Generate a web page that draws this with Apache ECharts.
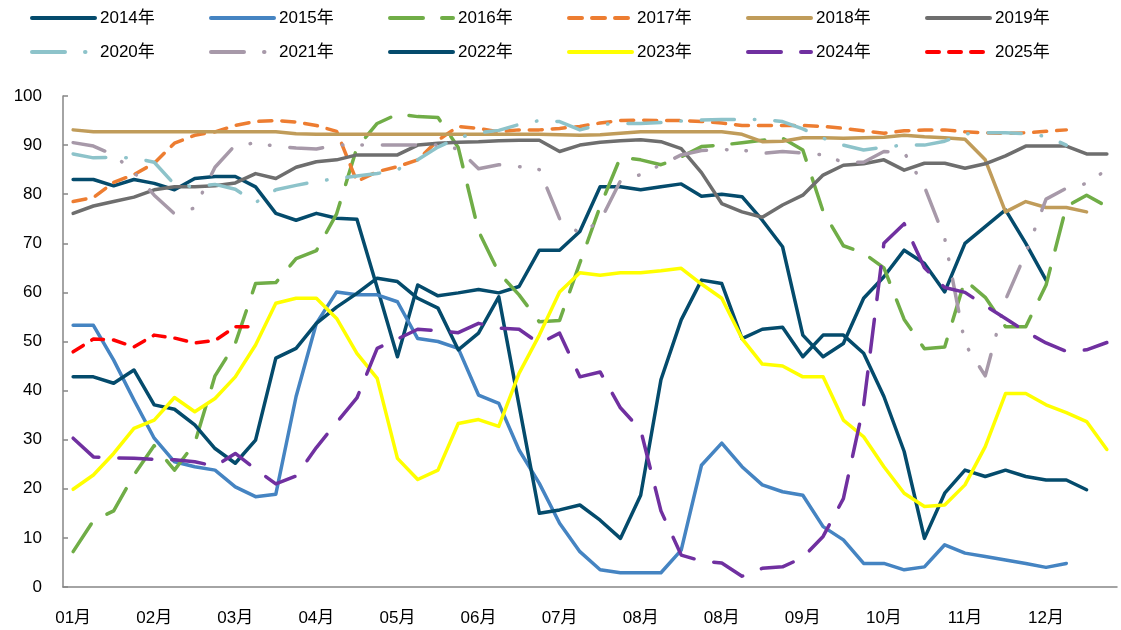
<!DOCTYPE html>
<html>
<head>
<meta charset="utf-8">
<script src="https://cdn.jsdelivr.net/npm/echarts@6/dist/echarts.min.js"></script>
<style>
html, body { margin: 0; padding: 0; background: #fff; }
#chart { width: 1121px; height: 630px; }
</style>
</head>
<body>
<div id="chart"></div>
<script>
// tick labels, one every 4 weeks (the chart repeats 08月)
var monthLabels = ['01月', '02月', '03月', '04月', '05月', '06月', '07月', '08月', '08月', '09月', '10月', '11月', '12月'];
var weeks = [];
for (var w = 1; w <= 52; w++) weeks.push('W' + w);

var s2014 = [83, 83, 81.7, 83, 82.2, 80.9, 83.2, 83.6, 83.6, 81.5, 76.1, 74.7, 76.1, 75.1, 74.9, 61, 46.9, 61.5, 59.3, 59.9,
    60.6, 59.9, 61.2, 68.6, 68.6, 72.4, 81.5, 81.5, 80.9, 81.5, 82.1, 79.6, 80, 79.5, 74.7, 69.3, 51.3, 46.9, 49.6, 58.8,
    63.2, 68.6, 65.9, 60.1, 70, 73.4, 76.8, 70, 62.5];
var s2015 = [53.3, 53.3, 46.2, 38.1, 30.3, 25.5, 24.5, 23.8, 20.4, 18.4, 18.9, 38.8, 53.7, 60.1, 59.5, 59.5, 58.1, 50.6, 50, 48.6,
    39.1, 37.4, 27.9, 21.1, 13, 7.2, 3.5, 2.9, 2.9, 2.9, 7.5, 24.8, 29.3, 24.5, 20.8, 19.4, 18.7, 12.3, 9.6, 4.8,
    4.8, 3.5, 4.1, 8.6, 6.9, 6.2, 5.5, 4.8, 4, 4.8];
var s2016 = [7.2, 13.5, 15.5, 22.8, 28.8, 23.8, 29.3, 43, 49.6, 61.8, 62, 66.9, 68.5, 76, 89.5, 94.4, 96.3, 95.8, 95.6, 89.5,
    72.5, 64, 59.5, 54, 54.3, 66, 77.5, 87.5, 87, 86, 87.6, 89.7, 90, 90.5, 91, 91.4, 89, 76.5, 69.5, 68,
    65, 54.5, 48.5, 48.9, 62.5, 59, 53, 53, 61.5, 77.5, 79.8, 77.5];
var s2017 = [78.5, 79.3, 82.4, 84, 86.3, 90.4, 92, 92.7, 94, 94.8, 95, 94.7, 94, 92.8, 82.6, 84.6, 85.6, 87, 91, 93.8,
    93.4, 92.7, 93.1, 93.1, 93.4, 93.8, 94.5, 95, 95.1, 95, 95, 94.8, 94.5, 94, 94, 94, 94, 93.8, 93.4, 92.9,
    92.4, 92.9, 93.1, 93.1, 92.7, 92.5, 92.4, 92.5, 92.8, 93.1];
var s2018 = [93.1, 92.7, 92.7, 92.7, 92.7, 92.7, 92.7, 92.7, 92.7, 92.7, 92.7, 92.3, 92.2, 92.2, 92.2, 92.2, 92.2, 92.2, 92.2, 92.2,
    92.2, 92.2, 92.2, 92.2, 92.1, 92, 92.1, 92.4, 92.7, 92.7, 92.7, 92.7, 92.7, 92.2, 90.7, 90.8, 91.5, 91.5, 91.4, 91.5,
    91.6, 92, 91.7, 91.5, 91.2, 87, 76.4, 78.5, 77.3, 77.3, 76.4];
var s2019 = [76.1, 77.6, 78.5, 79.4, 80.9, 81.5, 81.5, 81.7, 82.3, 84.2, 83.2, 85.5, 86.6, 87, 88, 88, 88, 90, 90.4, 90.6,
    90.7, 90.9, 91, 91, 88.7, 90, 90.6, 90.9, 91.1, 90.7, 89.3, 84.4, 78.1, 76.4, 75.3, 77.8, 79.8, 83.9, 85.9, 86.2,
    87, 84.9, 86.3, 86.3, 85.3, 86.2, 87.8, 89.8, 89.8, 89.8, 88.2, 88.2];
var s2020 = [88.2, 87.4, 87.5, 87.4, 86.5, 82, 81.5, 82, 81, 78.3, 80.9, 81.8, 82.6, 83.2, 83.7, 84.2, 85, 87, 89.6, 91.5,
    92.5, 93, 94.2, 95, 94.8, 93.1, 94.2, 94.4, 94.4, 94.6, 94.9, 95.1, 95.2, 95.2, 95.2, 94.8, 93.3, 91.4, 90, 89,
    89.6, 90, 90, 90.8, 92.3, 92.5, 92.5, 92.3, 91.8, 90];
var s2021 = [90.5, 89.8, 88, 84.5, 79.8, 76, 77.2, 85.5, 90, 90.4, 89.8, 89.4, 89.2, 90, 90, 90, 90, 90, 90, 89.2,
    85.2, 86, 85.6, 85, 75, 72, 74.5, 82.7, 84, 86, 88, 88.9, 89.1, 89, 88.3, 88.7, 88.4, 88, 86.5, 86.5,
    88.7, 88.5, 81.5, 71, 49.5, 43, 58.5, 68, 79, 81.2, 82.2, 85];
var s2022 = [42.8, 42.8, 41.5, 44.2, 37.1, 36.2, 33, 28.2, 25.2, 29.9, 46.6, 48.6, 53.7, 57, 59.8, 62.9, 62.2, 58.8, 56.8, 48.3,
    51.7, 59.1, 37, 15, 15.7, 16.7, 13.6, 9.9, 18.7, 42.2, 54.4, 62.5, 61.8, 50.6, 52.5, 52.9, 46.9, 51.3, 51.3, 47.6,
    38.8, 27.6, 9.9, 19.1, 23.8, 22.5, 23.8, 22.5, 21.8, 21.8, 19.8];
var s2023 = [19.9, 22.8, 27.2, 32.3, 34, 38.6, 35.7, 38.4, 42.8, 49.3, 57.8, 58.8, 58.8, 54.7, 47.6, 42.5, 26.2, 21.9, 23.8, 33.3,
    34.1, 32.7, 43.5, 51.3, 60.1, 64, 63.5, 64, 64, 64.4, 64.9, 61.7, 58.8, 50.6, 45.4, 45, 42.8, 42.8, 34, 30.6,
    24.5, 19.1, 16.4, 16.7, 20.8, 28.6, 39.4, 39.4, 37.1, 35.5, 33.7, 28];
var s2024 = [30.3, 26.5, 26.3, 26.2, 26, 25.9, 25.5, 24.6, 27.2, 24, 21, 22.6, 28.4, 33.5, 38.5, 48.6, 50.5, 52.5, 52.2, 51.8,
    53.7, 52.7, 52.5, 49.6, 51.7, 42.8, 43.8, 36.5, 32, 15.5, 6.5, 5.3, 4.9, 2.2, 3.8, 4.1, 6, 10.3, 18, 37,
    70, 74, 65, 61, 60, 57.3, 54.7, 52, 49.7, 48, 48.3, 49.8];
var s2025 = [47.9, 50.5, 50.3, 48.9, 51.3, 50.7, 49.7, 50.2, 53, 53];

var fontFam = '"Liberation Sans", Arial, "Noto Sans CJK SC", sans-serif';
var axisGray = '#868686';

var mkLine = function(name, data, color, dash) {
    return {
        name: name,
        type: 'line',
        data: data,
        symbol: 'none',
        showSymbol: false,
        silent: true,
        lineStyle: {
            color: color,
            width: 3.5,
            type: dash || 'solid',
            cap: 'round',
            join: 'round'
        },
        itemStyle: { color: color }
    };
};

var series = [
    mkLine('2014年', s2014, '#044B6C'),
    mkLine('2015年', s2015, '#4584C2'),
    mkLine('2016年', s2016, '#70AD47', [33, 19]),
    mkLine('2017年', s2017, '#ED7D31', [13, 10]),
    mkLine('2018年', s2018, '#C09C5A'),
    mkLine('2019年', s2019, '#6E6E6E'),
    mkLine('2020年', s2020, '#8DC3CA', [33, 20, 0.5, 20]),
    mkLine('2021年', s2021, '#A799A9', [33, 20, 0.5, 19, 0.5, 20]),
    mkLine('2022年', s2022, '#044B6C'),
    mkLine('2023年', s2023, '#FFFF00'),
    mkLine('2024年', s2024, '#7030A0', [33, 20]),
    mkLine('2025年', s2025, '#FF0000', [12, 10])
];

var names = series.map(function(s) { return s.name; });

var legendBase = function(list, top) {
    return {
        data: list,
        top: top,
        left: 30,
        padding: 0,
        orient: 'horizontal',
        itemWidth: 63,
        itemHeight: 14,
        itemGap: 51,
        selectedMode: false,
        itemStyle: { opacity: 0 },
        lineStyle: { width: 4 },
        textStyle: {
            fontSize: 17,
            color: '#000',
            fontFamily: fontFam,
            width: 58,
            lineHeight: 20
        }
    };
};

var chart = echarts.init(document.getElementById('chart'), null, { renderer: 'canvas' });
chart.setOption({
    animation: false,
    backgroundColor: '#fff',
    legend: [legendBase(names.slice(0, 6), 8), legendBase(names.slice(6), 42)],
    grid: { left: 63, right: 4, top: 96, bottom: 43, containLabel: false, outerBoundsMode: 'none' },
    xAxis: {
        type: 'category',
        data: weeks,
        boundaryGap: true,
        axisLine: { lineStyle: { color: axisGray, width: 1.5 } },
        axisTick: { interval: 3, inside: true, length: 5, lineStyle: { color: axisGray, width: 1.5 } },
        axisLabel: {
            interval: 3,
            margin: 23,
            fontSize: 17,
            color: '#000',
            fontFamily: fontFam,
            formatter: function(v, i) { return monthLabels[Math.floor(i / 4)]; }
        },
        splitLine: { show: false }
    },
    yAxis: {
        type: 'value',
        min: 0,
        max: 100,
        interval: 10,
        axisLine: { show: true, lineStyle: { color: axisGray, width: 1.5 } },
        axisTick: { show: true, inside: true, length: 5, lineStyle: { color: axisGray, width: 1.5 } },
        axisLabel: { margin: 21, fontSize: 17, color: '#000', fontFamily: fontFam },
        splitLine: { show: false }
    },
    series: series
});
</script>
</body>
</html>
